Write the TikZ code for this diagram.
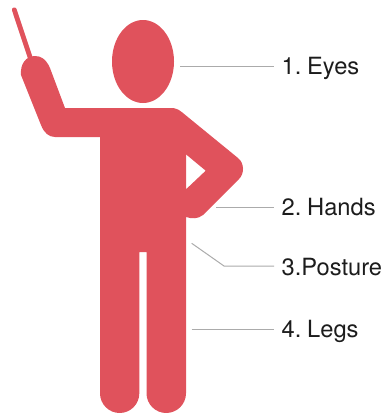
\documentclass[tikz,border=0pt]{standalone}
\usepackage{fontspec}
\setmainfont[WordSpace=0.55]{TeX Gyre Heros}
\definecolor{figred}{HTML}{E0525C}
\definecolor{leadgray}{HTML}{ABABAB}
\definecolor{labelink}{HTML}{1C1C1C}
\begin{document}
\begin{tikzpicture}[x=1pt, y=-1pt,
      lab/.style={anchor=west, font=\fontsize{23.7}{24}\selectfont, text=labelink,
                  text height=16pt, text depth=0pt, inner xsep=7.4pt, inner ysep=0pt},
      leader/.style={draw=leadgray, line width=1pt}]
    \useasboundingbox (0,0) rectangle (385,413);
    % pointer and head
    \draw[figred, line width=4.8pt, line cap=round] (14.3,9.8) -- (31,60);
    \fill[figred] (143,61.5) ellipse [x radius=31, y radius=41.5];
    % body with arm, legs and the gap at the hip
    \fill[figred, even odd rule]
      (65,108) -- (50,68) .. controls (46,59) and (41,56) .. (35,56)
      .. controls (26,56) and (20,64) .. (21,75) -- (41,125)
      .. controls (44,133) and (49,137) .. (55,137) -- (100,137)
      -- (100,393.3) .. controls (100,404.2) and (108.9,413) .. (119.7,413)
      .. controls (130.5,413) and (139.3,404.2) .. (139.3,393.3)
      -- (139.3,252) -- (146.5,252)
      -- (146.5,393.3) .. controls (146.5,404.2) and (155.4,413) .. (166.2,413)
      .. controls (177,413) and (186,404.2) .. (186,393.3)
      -- (186,217) .. controls (192,219) and (198,219) .. (203,215)
      -- (239,179) .. controls (244.5,174) and (244.5,163) .. (238,158)
      -- (181.7,112) .. controls (178,109) and (175,108) .. (171,108) -- cycle
      (186,154.3) -- (205.7,170.7) -- (186,189.3) -- cycle;
    % labels
    \node[lab] (eyes) at (274,66) {1. Eyes};
    \node[lab] (hands) at (274,207) {2. Hands};
    \node[lab, text height=18pt] (posture) at (274,266) {3.Posture};
    \node[lab] (legs) at (274,329) {4. Legs};
    \coordinate (eyesend) at (180,66);
    \coordinate (handsend) at (216,207);
    \coordinate (postureend) at (191.7,243.3);
    \coordinate (posturebend) at (224,266);
    \coordinate (legsend) at (191.7,329);
    \draw[leader] (eyesend) -- (eyes.west);
    \draw[leader] (handsend) -- (hands.west);
    \draw[leader] (postureend) -- (posturebend) -- (posture.west);
    \draw[leader] (legsend) -- (legs.west);
  \end{tikzpicture}
\end{document}
